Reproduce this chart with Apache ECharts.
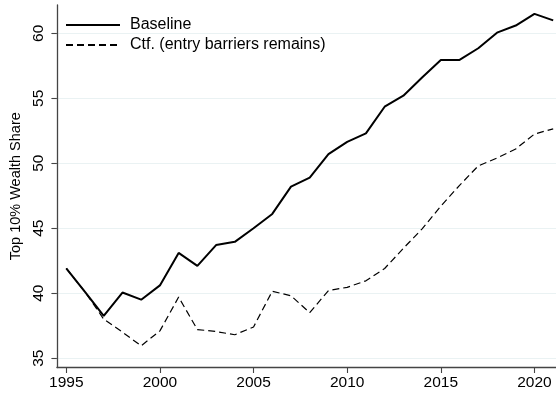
<!DOCTYPE html>
<html>
<head>
<meta charset="utf-8">
<script src="https://cdn.jsdelivr.net/npm/echarts@6/dist/echarts.min.js"></script>
<style>
  html, body { margin: 0; padding: 0; background: #fff; }
  #chart { width: 556px; height: 398px; }
</style>
</head>
<body>
<div id="chart"></div>
<script>
// Years and top 10% wealth share (percent) for both scenarios
const years = [1995, 1996, 1997, 1998, 1999, 2000, 2001, 2002, 2003, 2004, 2005, 2006, 2007,
  2008, 2009, 2010, 2011, 2012, 2013, 2014, 2015, 2016, 2017, 2018, 2019, 2020, 2021];
const baseline = [41.9, 40.1, 38.25, 40.05, 39.5, 40.6, 43.1, 42.1, 43.7, 43.95, 45.0, 46.1, 48.2,
  48.9, 50.7, 51.65, 52.3, 54.35, 55.2, 56.6, 57.95, 57.95, 58.85, 60.05, 60.6, 61.5, 61.0];
const counterfactual = [41.9, 40.1, 38.0, 37.0, 35.95, 37.1, 39.7, 37.2, 37.05, 36.8, 37.4, 40.15, 39.8,
  38.5, 40.2, 40.45, 40.95, 41.9, 43.45, 44.95, 46.7, 48.3, 49.8, 50.4, 51.1, 52.25, 52.65];
const xTicks = [1995, 2000, 2005, 2010, 2015, 2020];
const yTicks = [35, 40, 45, 50, 55, 60];

const seriesNames = ['Baseline', 'Ctf. (entry barriers remains)'];
const font = 'Liberation Sans, Arial, Helvetica, sans-serif';

const chart = echarts.init(document.getElementById('chart'));
chart.setOption({
  animation: false,
  backgroundColor: '#ffffff',
  grid: { left: 54, right: 0, top: 5, bottom: 30.5, containLabel: false },
  legend: {
    orient: 'vertical',
    left: 65,
    top: 17,
    padding: 0,
    itemWidth: 54,
    itemHeight: 14,
    itemGap: 4,
    itemStyle: { opacity: 0 },
    textStyle: { fontFamily: font, fontSize: 16, color: '#000', lineHeight: 14, padding: [0, 0, 0, 5] },
    data: seriesNames
  },
  xAxis: {
    type: 'value',
    min: 1994.5,
    max: 2021.15,
    axisLine: { lineStyle: { color: '#444', width: 1.3 } },
    axisTick: { show: true, length: 5.5, lineStyle: { color: '#444', width: 1.1 }, customValues: xTicks },
    axisLabel: {
      customValues: xTicks,
      formatter: (v) => String(v),
      fontFamily: font, fontSize: 15.5, color: '#000', margin: 7
    },
    splitLine: { show: false }
  },
  yAxis: {
    type: 'value',
    min: 34.28,
    max: 62.18,
    name: 'Top 10% Wealth Share',
    nameLocation: 'middle',
    nameGap: 30,
    nameTextStyle: { fontFamily: font, fontSize: 14.5, color: '#000' },
    axisLine: { show: true, lineStyle: { color: '#444', width: 1.3 } },
    axisTick: { show: true, length: 5.5, lineStyle: { color: '#444', width: 1.1 }, customValues: yTicks },
    axisLabel: {
      customValues: yTicks,
      formatter: (v) => String(v),
      rotate: 90, fontFamily: font, fontSize: 15.5, color: '#000', margin: 10
    },
    splitLine: { show: true, lineStyle: { color: '#eaf2f3', width: 1.2 } }
  },
  series: [
    {
      name: seriesNames[0],
      type: 'line',
      data: years.map((y, i) => [y, baseline[i]]),
      symbol: 'none',
      lineStyle: { color: '#000', width: 2 },
      itemStyle: { color: '#000' },
      z: 3
    },
    {
      name: seriesNames[1],
      type: 'line',
      data: years.map((y, i) => [y, counterfactual[i]]),
      symbol: 'none',
      lineStyle: { color: '#000', width: 1.2, type: [7, 4] },
      itemStyle: { color: '#000' },
      z: 2
    }
  ]
});
</script>
</body>
</html>
